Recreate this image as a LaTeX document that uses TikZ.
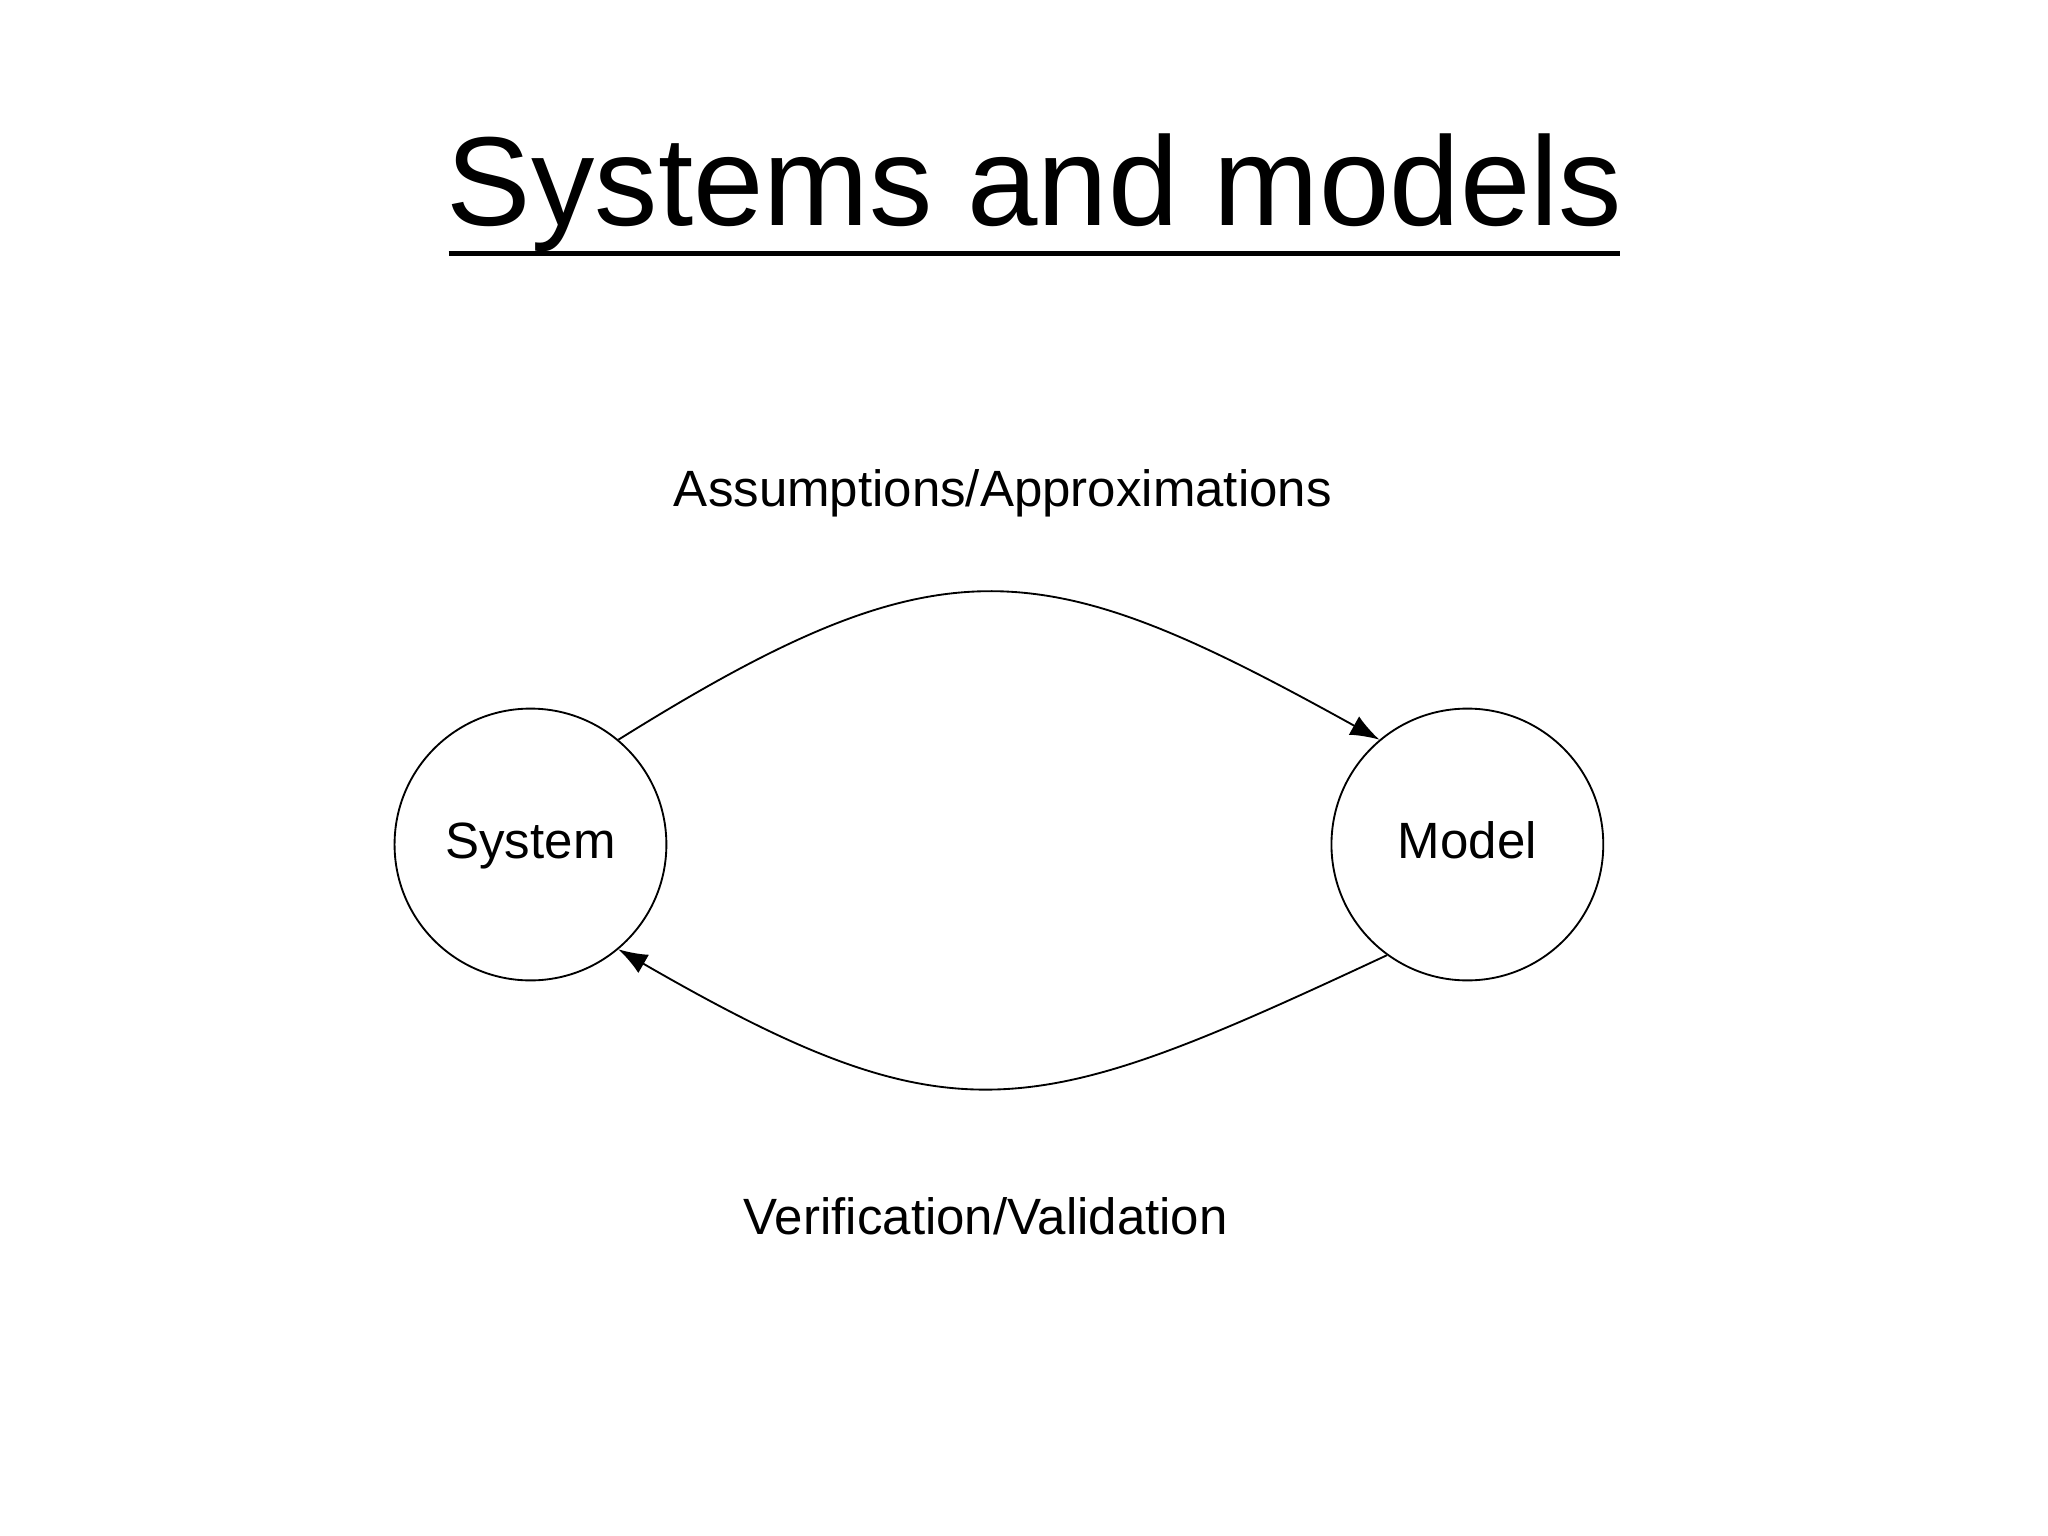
\documentclass[tikz,border=0pt]{standalone}
\usepackage{fontspec}
\setmainfont{Liberation Sans}
\usetikzlibrary{arrows.meta}
\begin{document}
\begin{tikzpicture}[x=1cm,y=1cm,
  state/.style={draw,circle,minimum size=2.06cm,inner sep=0pt,text height=1.6ex,text depth=0.45ex,font=\fontsize{11pt}{13pt}\selectfont},
  label/.style={font=\fontsize{11pt}{13pt}\selectfont},
  flow/.style={line width=0.4pt,-{Latex[length=2.2mm,width=1.6mm]},looseness=1.3}]
\useasboundingbox (0,0) rectangle (15.52,11.64);
\node[font=\fontsize{27.3pt}{32pt}\selectfont] (title) at (7.84,10.18) {Systems and models};
\coordinate (ulA) at (3.40,9.72);
\coordinate (ulB) at (12.28,9.72);
\draw[line width=1.2pt] (ulA) -- (ulB);
\node[state] (sys) at (4.02,5.24) {System};
\node[state] (mod) at (11.12,5.24) {Model};
\node[label] (assum) at (7.60,7.90) {Assumptions/Approximations};
\node[label] (verif) at (7.47,2.42) {Verification/Validation};
\draw[flow] (sys.50) to[out=32,in=151] (mod.130);
\draw[flow] (mod.234) to[out=205,in=330] (sys.310);
\end{tikzpicture}
\end{document}
